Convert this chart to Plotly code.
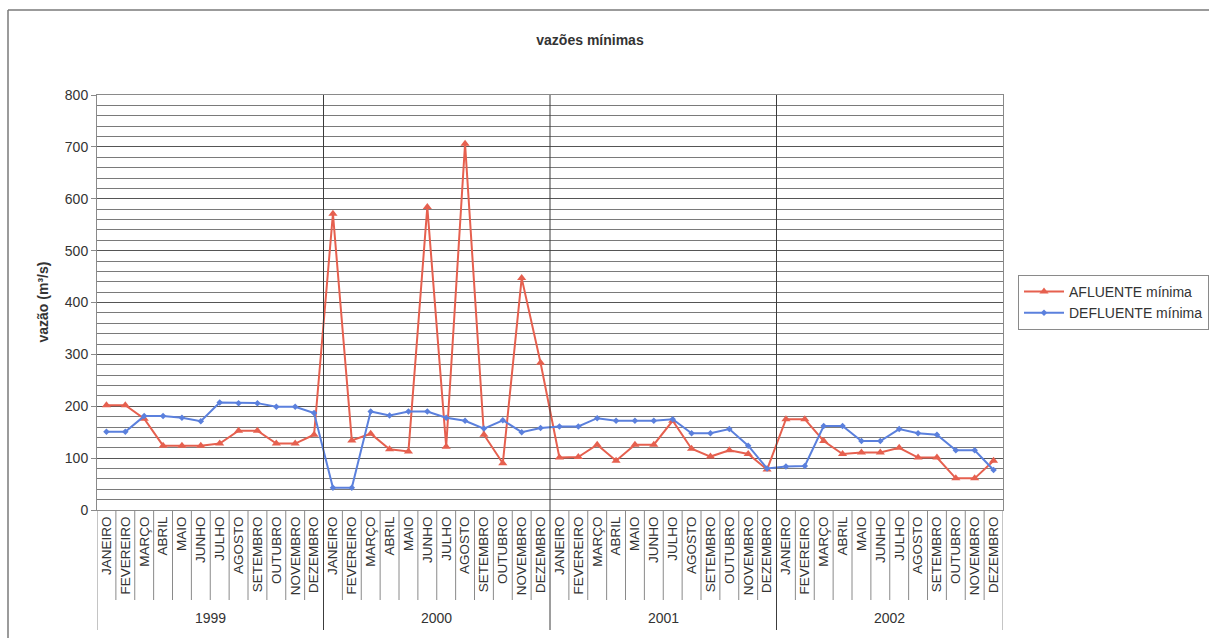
import plotly.graph_objects as go

# Monthly minimum flows (m³/s) at the plant, 1999–2002
years = ["1999", "2000", "2001", "2002"]
months = ["JANEIRO", "FEVEREIRO", "MARÇO", "ABRIL", "MAIO", "JUNHO", "JULHO",
          "AGOSTO", "SETEMBRO", "OUTUBRO", "NOVEMBRO", "DEZEMBRO"]

afluente_minima = [
    202, 202, 176, 124, 124, 124, 128, 153, 153, 128, 128, 145,   # 1999
    571, 134, 147, 117, 113, 584, 122, 706, 145, 90, 447, 284,    # 2000
    101, 102, 126, 95, 126, 126, 172, 118, 103, 115, 108, 78,     # 2001
    175, 175, 133, 108, 111, 111, 120, 101, 101, 61, 61, 95,      # 2002
]
defluente_minima = [
    151, 151, 181, 181, 178, 171, 207, 206, 206, 199, 199, 187,   # 1999
    43, 43, 190, 182, 190, 190, 178, 172, 157, 173, 150, 158,     # 2000
    161, 161, 177, 172, 172, 172, 175, 148, 148, 156, 124, 80,    # 2001
    84, 85, 162, 162, 133, 133, 156, 148, 145, 115, 115, 77,      # 2002
]

n_months = len(months)
n_total = len(years) * n_months
pos = list(range(n_total))
month_labels = months * len(years)

FONT = "Arial, Liberation Sans, sans-serif"
RED = "#E6604F"
BLUE = "#5B80DD"
TEXT = "#333333"

W, H = 1209, 638
M_L, M_R, M_T, M_B = 97, 206, 95, 128
plot_w = W - M_L - M_R
plot_h = H - M_T - M_B


def px_to_paper_x(px):
    return (px - M_L) / plot_w


def px_to_paper_y(py):
    return (H - M_B - py) / plot_h


fig = go.Figure()

fig.add_trace(go.Scatter(
    x=pos, y=afluente_minima, name="AFLUENTE mínima",
    mode="lines+markers",
    line=dict(color=RED, width=2),
    marker=dict(symbol="triangle-up", size=8, color=RED),
))
fig.add_trace(go.Scatter(
    x=pos, y=defluente_minima, name="DEFLUENTE mínima",
    mode="lines+markers",
    line=dict(color=BLUE, width=2),
    marker=dict(symbol="diamond", size=5, color=BLUE),
))

shapes = []
label_bottom = px_to_paper_y(600)
year_bottom = px_to_paper_y(630)

# month separators under the axis
for i in range(1, n_total):
    if i % n_months:
        shapes.append(dict(type="line", xref="x", yref="paper",
                           x0=i - 0.5, x1=i - 0.5, y0=0, y1=label_bottom,
                           line=dict(color="#8a8a8a", width=1)))
# year separators through plot and label area
for k in range(len(years) + 1):
    xb = k * n_months - 0.5
    inner = 0 < k < len(years)
    shapes.append(dict(type="line", xref="x", yref="paper",
                       x0=xb, x1=xb, y0=1 if inner else 0, y1=year_bottom,
                       line=dict(color="#3c3c3c" if inner else "#8a8a8a", width=1)))

# chart frame
shapes.append(dict(type="line", xref="paper", yref="paper",
                   x0=px_to_paper_x(8), x1=px_to_paper_x(8),
                   y0=px_to_paper_y(10), y1=px_to_paper_y(650),
                   line=dict(color="#7a7a7a", width=1.5)))
shapes.append(dict(type="line", xref="paper", yref="paper",
                   x0=px_to_paper_x(8), x1=px_to_paper_x(1220),
                   y0=px_to_paper_y(10), y1=px_to_paper_y(10),
                   line=dict(color="#7a7a7a", width=1.5)))

annotations = []
for k, yr in enumerate(years):
    annotations.append(dict(
        x=k * n_months + (n_months - 1) / 2, xref="x",
        y=px_to_paper_y(618), yref="paper",
        text=yr, showarrow=False, xanchor="center", yanchor="middle",
        font=dict(family=FONT, size=14, color=TEXT),
    ))
annotations.append(dict(
    x=px_to_paper_x(42), xref="paper", y=0.5, yref="paper",
    text="<b>vazão (m³/s)</b>", textangle=-90, showarrow=False,
    xanchor="center", yanchor="middle",
    font=dict(family=FONT, size=14, color=TEXT),
))

fig.update_layout(
    width=W, height=H,
    margin=dict(l=M_L, r=M_R, t=M_T, b=M_B, autoexpand=False),
    paper_bgcolor="white", plot_bgcolor="white",
    title=dict(text="<b>vazões mínimas</b>", x=px_to_paper_x(590), xref="paper",
               xanchor="center", y=1 - 40 / H, yref="container", yanchor="middle",
               font=dict(family=FONT, size=14, color=TEXT)),
    font=dict(family=FONT, color=TEXT),
    showlegend=True,
    legend=dict(x=1018 / W, xref="container", y=1 - 275 / H, yref="container",
                xanchor="left", yanchor="top",
                bordercolor="#8a8a8a", borderwidth=1, bgcolor="white",
                font=dict(family=FONT, size=14, color=TEXT),
                itemwidth=40, tracegroupgap=0),
    shapes=shapes,
    annotations=annotations,
)

fig.update_xaxes(
    range=[-0.5, n_total - 0.5],
    tickmode="array", tickvals=pos, ticktext=month_labels,
    tickangle=-90, tickfont=dict(family=FONT, size=13.5, color=TEXT),
    showgrid=False, zeroline=False,
    showline=True, linecolor="#8a8a8a", linewidth=1, mirror=True,
    ticks="", automargin=False,
)
fig.update_yaxes(
    range=[0, 800], dtick=100,
    tickfont=dict(family=FONT, size=14, color=TEXT),
    ticks="outside", ticklen=5, tickcolor="#8a8a8a",
    showgrid=True, gridcolor="#555555", gridwidth=1,
    minor=dict(dtick=20, showgrid=True, gridcolor="#7a7a7a", gridwidth=1),
    zeroline=False,
    showline=True, linecolor="#8a8a8a", linewidth=1, mirror=True,
    automargin=False,
)

fig.write_html("out.html")
